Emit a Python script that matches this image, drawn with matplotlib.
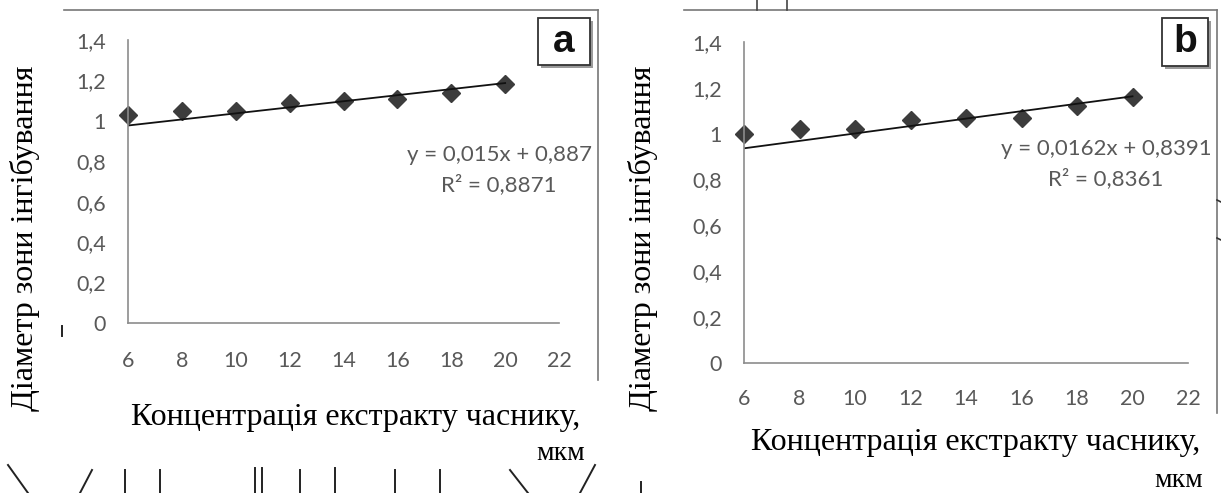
import numpy as np
import matplotlib
matplotlib.use("Agg")
import matplotlib.pyplot as plt
from matplotlib.lines import Line2D
from matplotlib.patches import Rectangle

# data
conc = [6, 8, 10, 12, 14, 16, 18, 20]
diam_a = [1.03, 1.05, 1.05, 1.09, 1.10, 1.11, 1.14, 1.18]
diam_b = [1.00, 1.02, 1.02, 1.06, 1.07, 1.07, 1.12, 1.16]
trend_a = (0.015, 0.887)
trend_b = (0.0162, 0.8391)
eq_a = ["y = 0,015x + 0,887", "R² = 0,8871"]
eq_b = ["y = 0,0162x + 0,8391", "R² = 0,8361"]
x_ticks = [6, 8, 10, 12, 14, 16, 18, 20, 22]
y_ticks = [0, 0.2, 0.4, 0.6, 0.8, 1.0, 1.2, 1.4]
y_label = "Діаметр зони інгібування"
x_label = "Концентрація екстракту часнику,"
x_unit = "мкм"

W, H = 1221, 493
fig = plt.figure(figsize=(W / 100, H / 100), dpi=100)

GRAY = "#595959"
AXIS = "#8c8c8c"
SERIF = ["Liberation Serif", "DejaVu Serif"]
SANS = ["Lato", "DejaVu Sans"]


def px(x, y):
    # pixel (from top-left) -> figure fraction
    return x / W, 1 - y / H


def fig_line(xs, ys, color="#777777", lw=1.2):
    fx = [x / W for x in xs]
    fy = [1 - y / H for y in ys]
    fig.add_artist(Line2D(fx, fy, color=color, lw=lw, transform=fig.transFigure))


def letter_box(x0, y0, x1, y1, letter):
    # shadow then box
    fig.add_artist(Rectangle(px(x0 + 3, y1 + 3), (x1 - x0) / W, (y1 - y0) / H,
                             transform=fig.transFigure, fc="#9a9a9a", ec="none"))
    fig.add_artist(Rectangle(px(x0, y1), (x1 - x0) / W, (y1 - y0) / H,
                             transform=fig.transFigure, fc="white", ec="#333333", lw=1.3))
    cx, cy = px((x0 + x1) / 2, (y0 + y1) / 2)
    fig.text(cx, cy, letter, ha="center", va="center", fontsize=28, fontweight="bold",
             family=["Liberation Sans", "DejaVu Sans"], color="#111111")


def draw_panel(rect, values, trend, eq, eq_pos, xpad, ypad):
    ax = fig.add_axes(rect)
    ax.plot(conc, values, linestyle="none", marker="D", markersize=9.5,
            color="#3c3c3c", clip_on=False, zorder=2)
    slope, icpt = trend
    tx = np.array([min(conc), max(conc)])
    ax.plot(tx, slope * tx + icpt, color="#111111", lw=1.3, zorder=3)
    ax.set_xlim(6, 22)
    ax.set_ylim(0, 1.4)
    ax.set_xticks(x_ticks)
    ax.set_xticklabels([str(t) for t in x_ticks])
    ax.set_yticks(y_ticks)
    ax.set_yticklabels([f"{t:g}".replace(".", ",") for t in y_ticks])
    for s in ["top", "right"]:
        ax.spines[s].set_visible(False)
    for s in ["left", "bottom"]:
        ax.spines[s].set_color(AXIS)
        ax.spines[s].set_linewidth(1.2)
        ax.spines[s].set_zorder(4)
    ax.tick_params(length=0, labelsize=15.5, labelcolor=GRAY)
    ax.tick_params(axis="x", pad=xpad)
    ax.tick_params(axis="y", pad=ypad)
    for lab in ax.get_xticklabels() + ax.get_yticklabels():
        lab.set_family(SANS)
    (ex, ey1), (_, ey2) = eq_pos
    ax.text(ex, ey1, eq[0], transform=ax.transAxes, ha="center", va="center",
            fontsize=16, color=GRAY, family=SANS)
    ax.text(ex, ey2, eq[1], transform=ax.transAxes, ha="center", va="center",
            fontsize=16, color=GRAY, family=SANS)
    return ax


# panel a
draw_panel([128 / W, 1 - 323 / H, (559 - 128) / W, (323 - 40) / H],
           diam_a, trend_a, eq_a, [(0.861, 0.594), (0.861, 0.488)], 20, 16)
# panel b
draw_panel([744 / W, 1 - 363 / H, (1188 - 744) / W, (363 - 42) / H],
           diam_b, trend_b, eq_b, [(0.815, 0.668), (0.815, 0.574)], 19, 16)

# axis titles (serif, as in the paper)
for cx, cy in [(25, 238), (643, 238)]:
    x, y = px(cx, cy)
    fig.text(x, y, y_label, rotation=90, ha="center", va="center", fontsize=23, family=SERIF)
for cx, cy, ux, uy in [(356, 425, 585, 460), (976, 450, 1203, 487)]:
    x, y = px(cx, cy)
    fig.text(x, y, x_label, ha="center", va="baseline", fontsize=23, family=SERIF)
    x, y = px(ux, uy)
    fig.text(x, y, x_unit, ha="right", va="baseline", fontsize=20, family=SERIF)

# panel frames from the scan
fig_line([64, 598], [10, 10])
fig_line([598, 598], [10, 380])
fig_line([684, 1217], [10, 10])
fig_line([1217, 1217], [10, 413])
fig_line([757, 757], [0, 10], color="#444444")
fig_line([787, 787], [0, 10], color="#444444")
fig_line([1217, 1221], [200, 202], color="#333333")
fig_line([1217, 1221], [238, 240], color="#333333")

letter_box(538, 18, 590, 65, "a")
letter_box(1162, 18, 1208, 66, "b")

# scan leftovers along the bottom edge
for xs, ys in [([8, 28], [465, 493]), ([80, 92], [493, 470]), ([125, 125], [470, 493]),
               ([160, 160], [470, 493]), ([255, 255], [468, 493]), ([262, 262], [468, 493]),
               ([300, 300], [470, 493]), ([335, 335], [468, 493]), ([395, 395], [470, 493]),
               ([440, 440], [470, 493]), ([510, 528], [470, 493]), ([580, 595], [493, 465]),
               ([641, 641], [482, 493]), ([62, 62], [326, 336])]:
    fig_line(xs, ys, color="#222222", lw=1.4)

fig.savefig("out.png", dpi=100, facecolor="white")
